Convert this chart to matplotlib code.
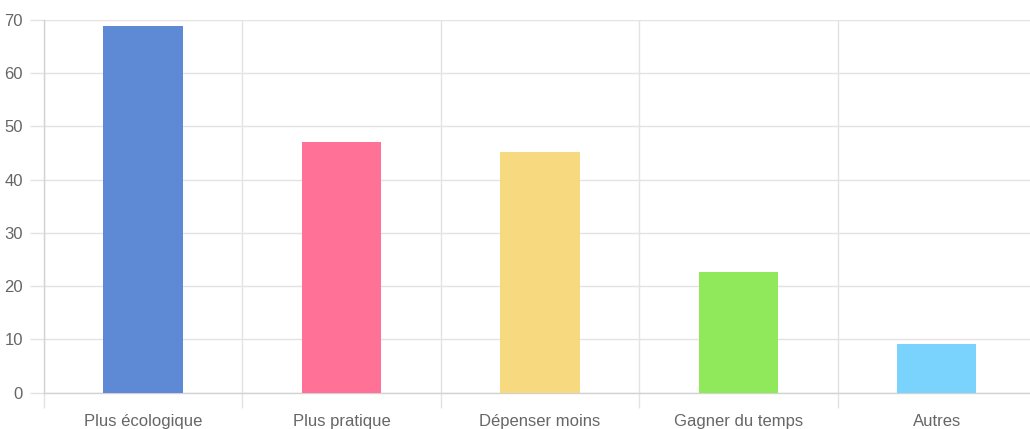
import matplotlib
matplotlib.use("Agg")
import matplotlib.pyplot as plt
import numpy as np

# données
categories = ["Plus écologique", "Plus pratique", "Dépenser moins", "Gagner du temps", "Autres"]
values = [68.8, 47.0, 45.3, 22.6, 9.1]
colors = ["#5d89d5", "#ff7196", "#f7d97f", "#8fe95b", "#79d3fd"]
yticks = [0, 10, 20, 30, 40, 50, 60, 70]

plt.rcParams['font.family'] = ['Liberation Sans', 'DejaVu Sans']

W, H = 1030, 429
fig = plt.figure(figsize=(W / 100, H / 100), dpi=100)
ax = fig.add_axes([43.7 / W, 36.3 / H, (W - 43.7) / W, 372.7 / H])

x = np.arange(len(categories))
ax.bar(x, values, width=0.4, color=colors, zorder=3)

ax.set_xlim(-0.5, 4.47)
ax.set_ylim(0, 70)

grid_c = "#e3e3e3"
axis_c = "#d2d2d2"

ax.set_yticks(yticks)
ax.set_xticks(x)
ax.set_xticklabels(categories)
ax.set_xticks(np.arange(-0.5, 4.5, 1.0), minor=True)

ax.grid(axis='y', which='major', color=grid_c, linewidth=1, zorder=0)
ax.grid(axis='x', which='minor', color=grid_c, linewidth=1, zorder=0)

ax.tick_params(axis='x', which='major', length=0, pad=15, labelsize=12, labelcolor="#666666")
ax.tick_params(axis='x', which='minor', length=11, width=1, color=grid_c)
ax.tick_params(axis='y', length=10, width=1, color=grid_c, pad=5, labelsize=12, labelcolor="#666666")

for side in ['top', 'right']:
    ax.spines[side].set_visible(False)
for side in ['left', 'bottom']:
    ax.spines[side].set_color(axis_c)
    ax.spines[side].set_linewidth(1)

fig.savefig("out.png", dpi=100)
